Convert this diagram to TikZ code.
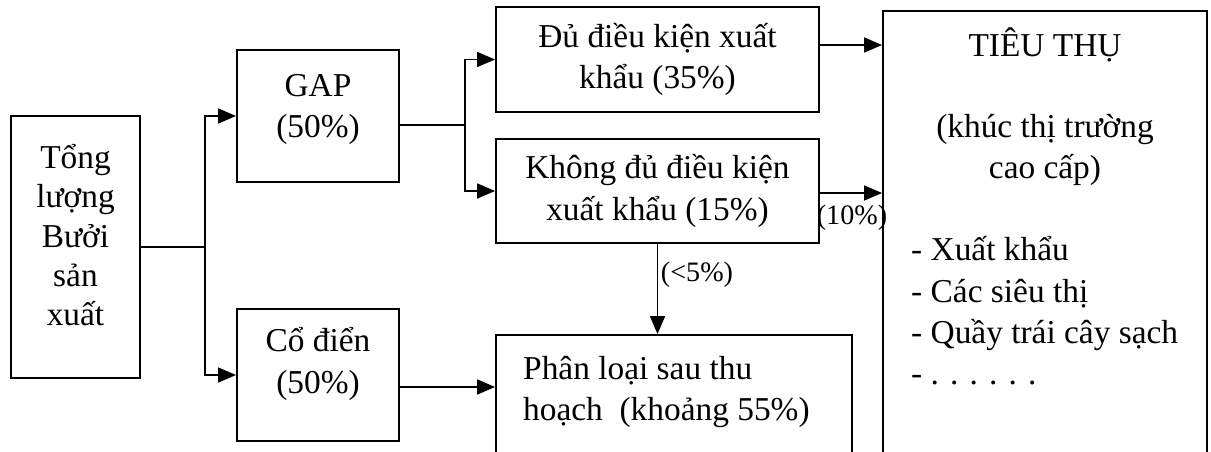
\documentclass[tikz,border=0pt]{standalone}
\usepackage{fontspec}
\setmainfont{Liberation Serif}
\usepackage{tikz}
\usetikzlibrary{arrows.meta, positioning, calc}

\begin{document}
\begin{tikzpicture}[
  x=0.02cm, y=-0.02cm,
  font=\fontsize{19}{23.5}\selectfont,
  box/.style={draw, line width=1.1pt, align=center, inner sep=0pt},
  lbl/.style={font=\fontsize{16}{18}\selectfont, inner sep=0pt},
  arr/.style={-{Triangle[length=0.36cm, width=0.3cm]}, line width=1pt},
  ln/.style={line width=1pt},
]
\useasboundingbox (0,0) rectangle (1211,452);

% Boxes
\node[box, minimum width=2.58cm, minimum height=5.24cm, text depth=0.48cm,
  font=\fontsize{19}{22.3}\selectfont] (total) at (75.5,247) {Tổng\\lượng\\Bưởi\\sản\\xuất};
\node[box, minimum width=3.24cm, minimum height=2.64cm, text depth=0.4cm] (gap) at (318,116) {GAP\\(50\%)};
\node[box, minimum width=3.24cm, minimum height=2.64cm, text depth=0.58cm] (codien) at (318,375) {Cổ điển\\(50\%)};
\node[box, minimum width=6.46cm, minimum height=2.1cm] (du) at (657.5,59.5) {Đủ điều kiện xuất\\khẩu (35\%)};
\node[box, minimum width=6.46cm, minimum height=2.08cm] (khong) at (657.5,191) {Không đủ điều kiện\\xuất khẩu (15\%)};
\node[box, minimum width=7.12cm, minimum height=2.8cm] (pl) at (674,405) {};
\node[box, minimum width=6.48cm, minimum height=9.28cm] (tieu) at (1045,243) {};

% Box texts
\node[anchor=west, align=left] (pltext) at (517,392) {Phân loại sau thu\\hoạch~ (khoảng 55\%)};
\node (tieuhead) at (1045,45) {TIÊU THỤ};
\node[align=center] (tieusub) at (1045,150) {(khúc thị trường\\cao cấp)};
\node[anchor=west, align=left] (tieulist) at (905,311) {- Xuất khẩu\\- Các siêu thị\\- Quầy trái cây sạch\\- . . . . . .};

% Connectors
\coordinate (split1) at (205,247);
\coordinate (split2) at (465,125);
\draw[ln] (total.east) -- (split1);
\draw[arr] (split1) |- (gap.west);
\draw[arr] (split1) |- (codien.west);
\draw[ln] (gap.east |- split2) -- (split2);
\draw[arr] (split2) |- (du.west);
\draw[arr] (split2) |- (khong.west);
\draw[arr] ([yshift=0.29cm]du.east) -- ([yshift=0.29cm]du.east -| tieu.west);
\draw[arr] ([yshift=-0.04cm]khong.east) -- ([yshift=-0.04cm]khong.east -| tieu.west);
\draw[arr] (khong.south) -- (khong.south |- pl.north);
\draw[arr] ([yshift=-0.24cm]codien.east) -- ([yshift=-0.24cm]codien.east -| pl.west);

% Shares
\node[lbl] (ten) at (852,218) {(10\%)};
\node[lbl] (five) at (697,275) {(<5\%)};

\end{tikzpicture}
\end{document}
